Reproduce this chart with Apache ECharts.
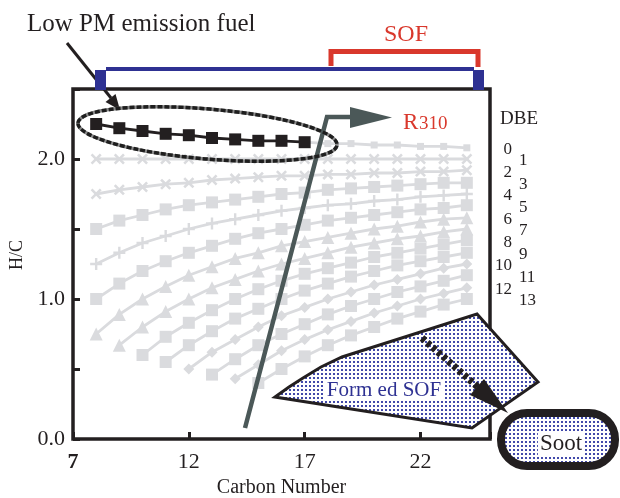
<!DOCTYPE html>
<html><head><meta charset="utf-8">
<script src="https://cdn.jsdelivr.net/npm/echarts@6/dist/echarts.min.js"></script>
<style>html,body{margin:0;padding:0;background:#fff}#chart{width:620px;height:498px}</style>
</head><body><div id="chart"></div>
<script>
// ---- data ----
const carbonNumbers = [8,9,10,11,12,13,14,15,16,17,18,19,20,21,22,23,24];
const dbeLabels = ['0','1','2','3','4','5','6','7','8','9','10','11','12','13'];
const lowPmRange = [8, 17];
const xTicks = [7, 12, 17, 22];
const yTickLabels = ['0.0', '1.0', '2.0'];
const dbe0  = [2.25,2.22,2.20,2.18,2.17,2.15,2.14,2.13,2.13,2.12,2.11,2.11,2.10,2.10,2.09,2.09,2.08];
const dbe1  = [2.00,2.00,2.00,2.00,2.00,2.00,2.00,2.00,2.00,2.00,2.00,2.00,2.00,2.00,2.00,2.00,2.00];
const dbe2  = [1.75,1.78,1.80,1.82,1.83,1.85,1.86,1.87,1.88,1.88,1.89,1.89,1.90,1.90,1.91,1.91,1.92];
const dbe3  = [1.50,1.56,1.60,1.64,1.67,1.69,1.71,1.73,1.75,1.76,1.78,1.79,1.80,1.81,1.82,1.83,1.83];
const dbe4  = [1.25,1.33,1.40,1.45,1.50,1.54,1.57,1.60,1.63,1.65,1.67,1.68,1.70,1.71,1.73,1.74,1.75];
const dbe5  = [1.00,1.11,1.20,1.27,1.33,1.38,1.43,1.47,1.50,1.53,1.56,1.58,1.60,1.62,1.64,1.65,1.67];
const dbe6  = [0.75,0.89,1.00,1.09,1.17,1.23,1.29,1.33,1.38,1.41,1.44,1.47,1.50,1.52,1.55,1.57,1.58];
const dbe7  = [null,0.67,0.80,0.91,1.00,1.08,1.14,1.20,1.25,1.29,1.33,1.37,1.40,1.43,1.45,1.48,1.50];
const dbe8  = [null,null,0.60,0.73,0.83,0.92,1.00,1.07,1.13,1.18,1.22,1.26,1.30,1.33,1.36,1.39,1.42];
const dbe9  = [null,null,null,0.55,0.67,0.77,0.86,0.93,1.00,1.06,1.11,1.16,1.20,1.24,1.27,1.30,1.33];
const dbe10 = [null,null,null,null,0.50,0.62,0.71,0.80,0.88,0.94,1.00,1.05,1.10,1.14,1.18,1.22,1.25];
const dbe11 = [null,null,null,null,null,0.46,0.57,0.67,0.75,0.82,0.89,0.95,1.00,1.05,1.09,1.13,1.17];
const dbe12 = [null,null,null,null,null,null,0.43,0.53,0.63,0.71,0.78,0.84,0.90,0.95,1.00,1.04,1.08];
const dbe13 = [null,null,null,null,null,null,null,0.40,0.50,0.59,0.67,0.74,0.80,0.86,0.91,0.96,1.00];

// ---- styles ----
const FONT = '"Liberation Serif","Times New Roman",serif';
const GRAY = '#dadbde';
const BLACK = '#231f20';
const NAVY = '#2e3192';
const RED = '#d9382c';
const SLATE = '#4b5858';
const CROSS_PATH = 'path://M4,0L6,0L6,4L10,4L10,6L6,6L6,10L4,10L4,6L0,6L0,4L4,4Z';
const markerKind = ['rect','x','x','rect','plus','rect','triangle','triangle','rect','rect','diamond','rect','diamond','rect'];

const allDbe = [dbe0,dbe1,dbe2,dbe3,dbe4,dbe5,dbe6,dbe7,dbe8,dbe9,dbe10,dbe11,dbe12,dbe13];
function pairs(vals, fromC, toC) {
  return carbonNumbers.map((c, i) => [c, vals[i]])
    .filter(p => p[1] != null && p[0] >= fromC && p[0] <= toC);
}

const series = allDbe.map((vals, k) => {
  const kind = markerKind[k];
  let symbol = kind, size = 12, rotate = 0;
  if (kind === 'x') { symbol = CROSS_PATH; size = 13; rotate = 45; }
  else if (kind === 'plus') { symbol = CROSS_PATH; size = 12; }
  else if (kind === 'rect') { size = k === 0 ? 7 : 12; }
  else if (kind === 'triangle') { size = 13; }
  else if (kind === 'diamond') { size = 11; }
  const data = k === 0 ? pairs(vals, lowPmRange[1], 24) : pairs(vals, 8, 24);
  return {
    type: 'line', name: 'DBE ' + dbeLabels[k], data,
    symbol, symbolSize: size, symbolRotate: rotate,
    lineStyle: { color: GRAY, width: 2.8 },
    itemStyle: { color: GRAY },
    z: 2, silent: true, animation: false
  };
});
series.push({
  type: 'line', name: 'Low PM emission fuel',
  data: pairs(dbe0, lowPmRange[0], lowPmRange[1]),
  symbol: 'rect', symbolSize: 12,
  lineStyle: { color: BLACK, width: 2.8 },
  itemStyle: { color: BLACK },
  z: 5, silent: true, animation: false
});

const chart = echarts.init(document.getElementById('chart'), null, { renderer: 'canvas' });
chart.setOption({
  animation: false,
  backgroundColor: '#fff',
  grid: { left: 73, right: 130, top: 89, bottom: 59, containLabel: false, outerBoundsMode: 'none',
          show: true, borderColor: BLACK, borderWidth: 3.5, backgroundColor: 'transparent' },
  xAxis: {
    type: 'value', min: 7, max: 25, interval: 5,
    name: 'Carbon Number', nameLocation: 'middle', nameGap: 39,
    nameTextStyle: { fontFamily: FONT, fontSize: 20, color: BLACK },
    axisLine: { show: false }, splitLine: { show: false },
    axisTick: { show: true, inside: true, length: 7, lineStyle: { color: BLACK, width: 3 } },
    axisLabel: {
      margin: 12, color: BLACK, fontFamily: FONT, fontSize: 22,
      formatter: v => (xTicks.indexOf(v) < 0 ? '' : (v === xTicks[0] ? '{b|' + v + '}' : String(v))),
      rich: { b: { fontWeight: 'bold', fontFamily: FONT, fontSize: 22, color: BLACK } }
    }
  },
  yAxis: {
    type: 'value', min: 0, max: 2.5, interval: 0.5,
    name: 'H/C', nameLocation: 'middle', nameGap: 46, nameRotate: 90,
    nameTextStyle: { fontFamily: FONT, fontSize: 18, color: BLACK, padding: [0, 0, 0, 18] },
    axisLine: { show: false }, splitLine: { show: false },
    axisTick: { show: true, inside: true, length: 7, lineStyle: { color: BLACK, width: 3 } },
    axisLabel: {
      margin: 8, color: BLACK, fontFamily: FONT, fontSize: 22,
      formatter: v => { const s = v.toFixed(1); return yTickLabels.indexOf(s) < 0 ? '' : s; }
    }
  },
  series
});

// ---- annotations ----
function dotPattern() {
  const c = document.createElement('canvas');
  c.width = 4; c.height = 4;
  const g = c.getContext('2d');
  g.fillStyle = '#ffffff'; g.fillRect(0, 0, 4, 4);
  g.fillStyle = '#4149aa'; g.fillRect(1, 1, 2, 2);
  return c;
}
const dots = { image: dotPattern(), repeat: 'repeat' };

function txt(text, x, y, size, color, align, extra) {
  return {
    type: 'text', z: 100,
    style: Object.assign({
      text, x, y, fill: color, fontFamily: FONT, fontSize: size,
      align: align, textAlign: align, verticalAlign: 'middle', textVerticalAlign: 'middle'
    }, extra || {})
  };
}

const g = [];
// Low PM label + arrow
g.push(txt('Low PM emission fuel', 27, 24, 25, BLACK, 'left'));
g.push({ type: 'polyline', z: 100, shape: { points: [[67, 43], [111, 98]] }, style: { stroke: BLACK, lineWidth: 3, fill: 'none' } });
g.push({ type: 'polygon', z: 100, shape: { points: [[105.5, 102], [120, 110], [115.5, 94]] }, style: { fill: BLACK } });
// Blue bracket (whole range) and red SOF bracket
g.push({ type: 'polyline', z: 100, shape: { points: [[106, 69], [474, 69]] }, style: { stroke: NAVY, lineWidth: 4, fill: 'none' } });
g.push({ type: 'rect', z: 100, shape: { x: 95, y: 70, width: 11, height: 20 }, style: { fill: NAVY } });
g.push({ type: 'rect', z: 100, shape: { x: 473, y: 70, width: 11, height: 20 }, style: { fill: NAVY } });
g.push({ type: 'polyline', z: 100, shape: { points: [[331, 66], [331, 51.5], [478, 51.5], [478, 67]] }, style: { stroke: RED, lineWidth: 5, fill: 'none' } });
g.push(txt('SOF', 406, 35, 24, RED, 'center'));
// dashed ellipse round the low PM series
g.push({ type: 'ellipse', z: 100, x: 207.5, y: 134, rotation: -0.085,
  shape: { cx: 0, cy: 0, rx: 130, ry: 25 },
  style: { fill: 'none', stroke: '#8a8a8a', lineWidth: 3.5 } });
g.push({ type: 'ellipse', z: 101, x: 207.5, y: 134, rotation: -0.085,
  shape: { cx: 0, cy: 0, rx: 130, ry: 25 },
  style: { fill: 'none', stroke: '#1e1e1e', lineWidth: 3.5, lineDash: [5, 2] } });
// R310 arrow
g.push({ type: 'polyline', z: 100, shape: { points: [[245, 428], [327, 117], [352, 117]] },
  style: { stroke: SLATE, lineWidth: 4.5, fill: 'none', lineJoin: 'miter' } });
g.push({ type: 'polygon', z: 100, shape: { points: [[350, 107], [392, 117.5], [350, 128]] }, style: { fill: SLATE } });
g.push(txt('R', 403, 123, 23, RED, 'left'));
g.push(txt('310', 419, 124.5, 19, RED, 'left'));
// DBE column
g.push(txt('DBE', 500, 119.5, 19, BLACK, 'left'));
allDbe.forEach((vals, k) => {
  const last = vals[vals.length - 1];
  const y = chart.convertToPixel({ gridIndex: 0 }, [carbonNumbers[carbonNumbers.length - 1], last])[1] + 2;
  if (k % 2 === 0) g.push(txt(dbeLabels[k], 512, y, 17, BLACK, 'right'));
  else g.push(txt(dbeLabels[k], 519, y, 17, BLACK, 'left'));
});
// Formed SOF region
g.push({ type: 'polygon', z: 100,
  shape: { points: [[275, 397], [289, 387], [303, 378], [321, 367], [342, 357], [477, 314], [538, 382], [472, 428]] },
  style: { fill: dots, stroke: BLACK, lineWidth: 3, lineJoin: 'miter' } });
g.push(txt('Form ed SOF', 384, 390, 21, NAVY, 'center', { backgroundColor: '#fff', padding: [0, 2] }));
// dashed arrow to soot
g.push({ type: 'polyline', z: 101, shape: { points: [[422, 338], [480, 389]] },
  style: { stroke: BLACK, lineWidth: 7, lineDash: [4, 3], fill: 'none' } });
g.push({ type: 'polygon', z: 101, shape: { points: [[470, 395], [508, 413], [484, 379]] }, style: { fill: BLACK } });
// Soot capsule
g.push({ type: 'rect', z: 100, shape: { x: 501, y: 413, width: 114, height: 53, r: 26 },
  style: { fill: dots, stroke: BLACK, lineWidth: 8 } });
g.push(txt('Soot', 561, 444, 23, BLACK, 'center', { backgroundColor: '#fff', padding: [0, 2] }));

chart.setOption({ graphic: { elements: g } });
</script>
</body></html>
